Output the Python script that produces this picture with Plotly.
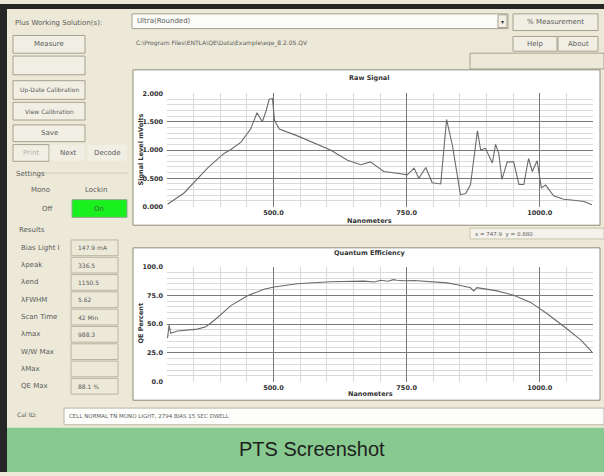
import plotly.graph_objects as go

W, H = 604, 476

# Raw signal trace (nm, mV)
raw_nm = [301, 332, 376, 407, 420, 439, 457, 469, 479, 486, 492, 498, 502, 511, 545, 607,
          639, 664, 682, 707, 732, 751, 764, 773, 786, 798, 814, 825, 836, 851, 861, 870,
          883, 889, 898, 911, 917, 923, 929, 939, 951, 961, 970, 979, 986, 995, 1003, 1011,
          1026, 1045, 1064, 1083, 1098]
raw_val = [0.04, 0.24, 0.68, 0.94, 1.01, 1.14, 1.37, 1.66, 1.50, 1.69, 1.90, 1.91, 1.52, 1.37,
           1.25, 1.00, 0.82, 0.74, 0.79, 0.62, 0.59, 0.56, 0.68, 0.50, 0.69, 0.42, 0.40, 1.54,
           1.08, 0.21, 0.23, 0.39, 1.34, 1.00, 1.03, 0.77, 1.10, 0.94, 0.48, 0.79, 0.79, 0.39,
           0.39, 0.85, 0.62, 0.81, 0.33, 0.38, 0.19, 0.13, 0.11, 0.09, 0.03]

# Quantum efficiency trace (nm, %)
qe_nm = [301, 304, 307, 320, 357, 373, 389, 420, 451, 482, 501, 545, 607, 650, 670, 690, 701,
         715, 725, 732, 745, 764, 795, 826, 845, 857, 870, 876, 882, 920, 951, 983, 1014,
         1046, 1077, 1098]
qe_val = [37.7, 49.0, 41.9, 43.9, 45.6, 47.6, 53.3, 66.0, 74.5, 80.2, 82.2, 85.0, 86.7, 87.2,
          87.3, 86.5, 88.1, 87.2, 88.6, 88.1, 87.6, 87.8, 86.7, 85.8, 84.2, 83.0, 81.5, 78.8,
          81.6, 78.8, 75.1, 68.8, 58.9, 47.6, 36.3, 25.8]

raw_ticks = [0.0, 0.5, 1.0, 1.5, 2.0]
qe_ticks = [0.0, 25.0, 50.0, 75.0, 100.0]
nm_ticks = [500.0, 750.0, 1000.0]

results_labels = ["Bias Light I", "λpeak", "λend", "λFWHM", "Scan Time", "λmax", "W/W Max", "λMax", "QE Max"]
results_values = ["147.9 mA", "336.5", "1150.5", "5.62", "42 Min", "988.3", "", "", "88.1 %"]

BG = "#ECE9D8"
BTN = "#F1EFE4"
EDGE = "#A5A18E"
TXT = "#5B5B5B"
FONT = "DejaVu Sans"


def px(x):
    return x / W


def py(y):
    return 1 - y / H


shapes = []
annotations = []


def rect(x0, y0, x1, y1, fill=BTN, line=EDGE, width=1, layer="below"):
    shapes.append(dict(type="rect", xref="paper", yref="paper", x0=px(x0), x1=px(x1),
                       y0=py(y1), y1=py(y0), fillcolor=fill, line=dict(color=line, width=width),
                       layer=layer))


def text(x, y, s, size=7, color=TXT, anchor="center", bold=False, angle=0, family=FONT):
    annotations.append(dict(x=px(x), y=py(y), xref="paper", yref="paper", text=s, showarrow=False,
                            xanchor=anchor, yanchor="middle", textangle=angle,
                            font=dict(size=size, color=color, family=family,
                                      weight="bold" if bold else "normal")))


# top controls
text(13, 19, "Plus Working Solution(s):", anchor="left")
rect(132, 10, 508, 25, fill="#FBFBF8")
text(135, 17, "Ultra(Rounded)", anchor="left")
rect(498, 11, 507, 24, fill=BTN)
text(502, 18, "▾", size=6, color="#333")
rect(513, 10, 598, 27)
text(555, 18, "% Measurement")
text(134, 40, "C:\\Program Files\\ENTLA\\QE\\Data\\Example\\eqe_8.2.05.QV", size=6, anchor="left")
rect(513, 33, 557, 48)
text(535, 41, "Help")
rect(558, 33, 598, 48)
text(578, 41, "About")
rect(470, 50, 604, 66, fill=BG)

# left button column
rect(13, 32, 85, 50)
text(49, 41, "Measure")
rect(13, 53, 85, 72)
rect(13, 78, 85, 97)
text(49, 87, "Up-Date Calibration", size=6)
rect(13, 100, 85, 118)
text(49, 109, "View Calibration", size=6)
rect(13, 123, 85, 140)
text(49, 131, "Save")
rect(13, 143, 49, 160)
text(31, 152, "Print", color="#B5B2A5")
rect(50, 143, 85, 160, line=BG)
text(68, 152, "Next")
rect(87, 143, 127, 160, line=BG)
text(107, 152, "Decode")

# settings group
text(14, 173, "Settings", anchor="left")
shapes.append(dict(type="line", xref="paper", yref="paper", x0=px(40), x1=px(128), y0=py(172),
                   y1=py(172), line=dict(color="#CFCBB8", width=1)))
text(40, 189, "Mono")
text(96, 189, "Lockin")
text(47, 208, "Off")
rect(72, 199, 127, 217, fill="#19F01E", line="#8FA88F")
text(99, 208, "On", color="#3D6B3D")

# results group
text(17, 230, "Results", anchor="left")
for i, (lab, val) in enumerate(zip(results_labels, results_values)):
    yy = 248 + i * 17.6
    text(19, yy, lab, anchor="left")
    rect(71, yy - 8, 118, yy + 8, fill=BG, line="#B8B4A2")
    text(76, yy, val, anchor="left", size=6)

# cal id row
text(15, 418, "Cal ID:", anchor="left", size=6)
rect(64, 411, 604, 428, fill="#FDFDFB", line="#B8B4A2")
text(67, 419, "CELL NORMAL TN MONO LIGHT, 2794 BIAS 15 SEC DWELL", anchor="left", size=5.5)

# green caption band
rect(7, 431, 604, 476, fill="#88C98F", line="#88C98F", width=0)
text(312, 453, "PTS Screenshot", size=20, color="#1E1E1E", family="Liberation Sans")

# chart panels
rect(133, 67, 600, 225, fill="white", line="#8E8B7C")
rect(133, 248, 600, 403, fill="white", line="#8E8B7C")
rect(470, 228, 604, 239, fill="#F4F2EA", line="#C9C5B2")
text(473, 234, "x = 747.9  y = 0.880", anchor="left", size=5.5)

# dark window border (left and top)
shapes.append(dict(type="line", xref="paper", yref="paper", x0=px(3.5), x1=px(3.5), y0=0, y1=1,
                   line=dict(color="#262626", width=7), layer="above"))
rect(0, 0, 604, 5, fill="#262626", line="#262626", width=0, layer="above")

text(369, 75, "Raw Signal", bold=True, size=6.5, color="#333")
text(369, 221, "Nanometers", bold=True, size=6.5, color="#333")
text(141, 148, "Signal Level mVolts", bold=True, size=6.5, color="#333", angle=-90)
text(370, 253, "Quantum Efficiency", bold=True, size=6.5, color="#333")
text(370, 397, "Nanometers", bold=True, size=6.5, color="#333")
text(141, 325, "QE Percent", bold=True, size=6.5, color="#333", angle=-90)

fig = go.Figure()
fig.add_trace(go.Scatter(x=raw_nm, y=raw_val, mode="lines", line=dict(color="#6A6A6A", width=1.1),
                         xaxis="x", yaxis="y", showlegend=False, hoverinfo="skip"))
fig.add_trace(go.Scatter(x=qe_nm, y=qe_val, mode="lines", line=dict(color="#6A6A6A", width=1.1),
                         xaxis="x2", yaxis="y2", showlegend=False, hoverinfo="skip"))

tickfont = dict(size=6.5, color="#333", family=FONT, weight="bold")
xcommon = dict(range=[300, 1100], tickvals=nm_ticks, ticktext=[f"{v:.1f}" for v in nm_ticks],
               showgrid=True, gridcolor="#7A7A7A", gridwidth=1, zeroline=False, showline=False,
               tickfont=tickfont, ticks="", ticklabelstandoff=1,
               minor=dict(tickvals=list(range(300, 1101, 50)), showgrid=True, gridcolor="#DADADA"))
fig.update_layout(
    width=W, height=H,
    margin=dict(l=0, r=0, t=0, b=0),
    paper_bgcolor=BG, plot_bgcolor="white",
    shapes=shapes, annotations=annotations,
    xaxis=dict(domain=[px(167), px(593)], anchor="y", **xcommon),
    yaxis=dict(domain=[py(206), py(91)], range=[0, 2.0], tickvals=raw_ticks,
               ticktext=[f"{v:.3f}" for v in raw_ticks], showgrid=True, gridcolor="#7A7A7A",
               zeroline=False, tickfont=tickfont, ticks="", ticklabelstandoff=3,
               minor=dict(dtick=0.1, showgrid=True, gridcolor="#DADADA")),
    xaxis2=dict(domain=[px(167), px(593)], anchor="y2", **xcommon),
    yaxis2=dict(domain=[py(384), py(267)], range=[0, 100], tickvals=qe_ticks,
                ticktext=[f"{v:.1f}" for v in qe_ticks], showgrid=True, gridcolor="#7A7A7A",
                zeroline=False, tickfont=tickfont, ticks="", ticklabelstandoff=3,
                minor=dict(dtick=5, showgrid=True, gridcolor="#DADADA")),
)

# drop the browser's default 8px body margin so the figure fills the window
fig.write_html("out.html", config={"displayModeBar": False},
               post_script="document.body.style.margin='0';")
